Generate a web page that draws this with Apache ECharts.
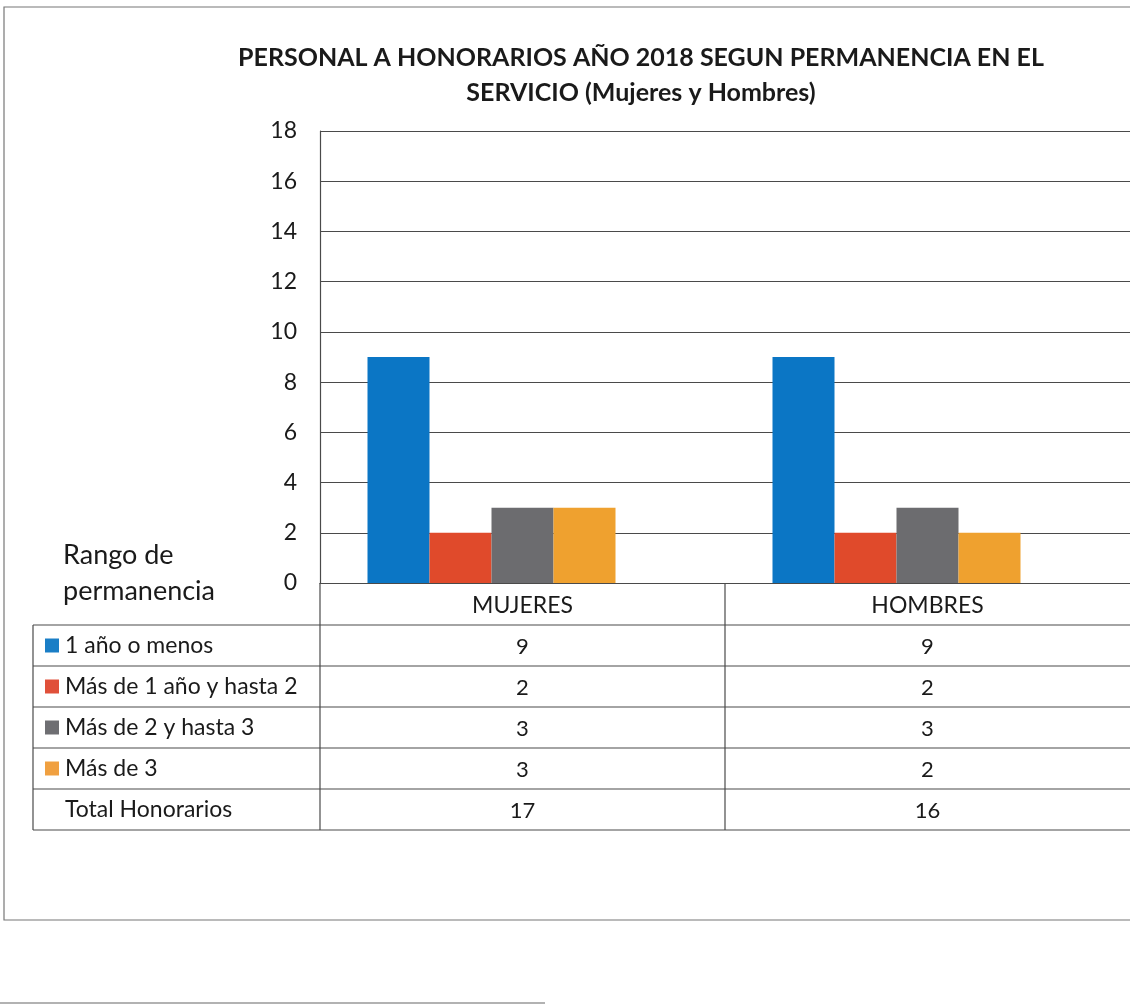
<!DOCTYPE html>
<html><head><meta charset="utf-8">
<script src="https://cdn.jsdelivr.net/npm/echarts@6/dist/echarts.min.js"></script>
<style>html,body{margin:0;padding:0;background:#fff}#c{width:1130px;height:1006px}</style>
</head><body><div id="c"></div>
<script>
// ---- data ----
const categories = ['MUJERES', 'HOMBRES'];
const seriesNames = ['1 año o menos', 'Más de 1 año y hasta 2', 'Más de 2 y hasta 3', 'Más de 3'];
const unoOMenos = [9, 9];
const masDe1Hasta2 = [2, 2];
const masDe2Hasta3 = [3, 3];
const masDe3 = [3, 2];
const totalLabel = 'Total Honorarios';
const totalHonorarios = [17, 16];
const yMin = 0, yMax = 18, yInterval = 2;
const titleText = 'PERSONAL A HONORARIOS AÑO 2018 SEGUN PERMANENCIA EN EL\nSERVICIO (Mujeres y Hombres)';
const tableHeader = 'Rango de\npermanencia';

// ---- style ----
const colors = ['#0B76C5', '#E04A2B', '#6C6C6F', '#EFA12F'];
const swatchColors = ['#1A7EC6', '#E0503A', '#6E6E72', '#F0A040'];
const FONT = 'Lato, "Open Sans", sans-serif';
const lineColor = '#4a4a4a';
const textColor = '#1a1a1a';

const seriesData = [unoOMenos, masDe1Hasta2, masDe2Hasta3, masDe3];

const chart = echarts.init(document.getElementById('c'), null, {renderer: 'canvas'});

const series = seriesData.map((d, i) => ({
  name: seriesNames[i], type: 'bar', data: d, barWidth: 62, barGap: '0%',
  itemStyle: {color: colors[i]}, silent: true
}));
// spacer slot for the (unplotted) total series, as in the original layout
series.push({name: totalLabel, type: 'bar', data: totalHonorarios.map(() => null), barWidth: 62, barGap: '0%'});

const GRID_TOP = 131, GRID_BOTTOM_Y = 583, GRID_LEFT = 320;

chart.setOption({
  backgroundColor: '#ffffff',
  animation: false,
  title: {
    text: titleText, left: 636, top: 35, textAlign: 'center',
    textStyle: {fontFamily: FONT, fontWeight: 'bold', fontSize: 25, color: '#1a1a1a', lineHeight: 35}
  },
  grid: {left: GRID_LEFT, top: GRID_TOP, width: 814, height: GRID_BOTTOM_Y - GRID_TOP, containLabel: false},
  xAxis: {
    type: 'category', data: categories,
    axisLine: {show: true, lineStyle: {color: lineColor, width: 1.2}},
    axisTick: {show: false},
    axisLabel: {show: true, margin: 11, fontFamily: FONT, fontSize: 23, color: textColor}
  },
  yAxis: {
    type: 'value', min: yMin, max: yMax, interval: yInterval,
    axisLine: {show: true, lineStyle: {color: lineColor, width: 1.2}},
    axisTick: {show: false},
    axisLabel: {margin: 23, fontFamily: FONT, fontSize: 23, color: textColor},
    splitLine: {show: true, lineStyle: {color: lineColor, width: 1.2}}
  },
  series: series
});

// ---- data table drawn below the axis ----
const rowLines = [583, 625, 666, 707, 748, 789, 830];
const tableLeft = 33, tableRight = 1140;
const centers = categories.map((c, i) => chart.convertToPixel({xAxisIndex: 0}, i));
const colDivider = (centers[0] + centers[1]) / 2;

const g = [];
// outer frame
g.push({type: 'rect', shape: {x: 4, y: 7, width: 1140, height: 913}, style: {fill: 'none', stroke: '#777', lineWidth: 1.2}, silent: true});
// page line at bottom
g.push({type: 'line', shape: {x1: 0, y1: 1003, x2: 545, y2: 1003}, style: {stroke: '#666', lineWidth: 1.2}, silent: true});

// horizontal lines
rowLines.forEach((y, i) => {
  if (i === 0) return;
  g.push({type: 'line', shape: {x1: tableLeft, y1: y, x2: tableRight, y2: y}, style: {stroke: lineColor, lineWidth: 1.2}, silent: true});
});
// vertical lines
g.push({type: 'line', shape: {x1: tableLeft, y1: rowLines[1], x2: tableLeft, y2: rowLines[6]}, style: {stroke: lineColor, lineWidth: 1.2}, silent: true});
g.push({type: 'line', shape: {x1: GRID_LEFT, y1: rowLines[0], x2: GRID_LEFT, y2: rowLines[6]}, style: {stroke: lineColor, lineWidth: 1.2}, silent: true});
g.push({type: 'line', shape: {x1: colDivider, y1: rowLines[0], x2: colDivider, y2: rowLines[6]}, style: {stroke: lineColor, lineWidth: 1.2}, silent: true});

// header label
g.push({type: 'text', style: {text: tableHeader, x: 63, y: 573, textAlign: 'left', textVerticalAlign: 'middle', font: '27px ' + FONT, fill: textColor, lineHeight: 36}, silent: true});

const rowLabels = seriesNames.concat([totalLabel]);
const rowValues = seriesData.concat([totalHonorarios]);
rowLabels.forEach((lab, r) => {
  const yc = (rowLines[r + 1] + rowLines[r + 2]) / 2;
  if (r < 4) {
    g.push({type: 'rect', shape: {x: 45, y: yc - 7, width: 14, height: 14}, style: {fill: swatchColors[r]}, silent: true});
  }
  g.push({type: 'text', style: {text: lab, x: 65, y: yc, textAlign: 'left', textVerticalAlign: 'middle', font: '23px ' + FONT, fill: textColor}, silent: true});
  rowValues[r].forEach((v, ci) => {
    g.push({type: 'text', style: {text: String(v), x: centers[ci], y: yc + 1, textAlign: 'center', textVerticalAlign: 'middle', font: '22px ' + FONT, fill: textColor}, silent: true});
  });
});

chart.setOption({graphic: g});
</script>
</body></html>
